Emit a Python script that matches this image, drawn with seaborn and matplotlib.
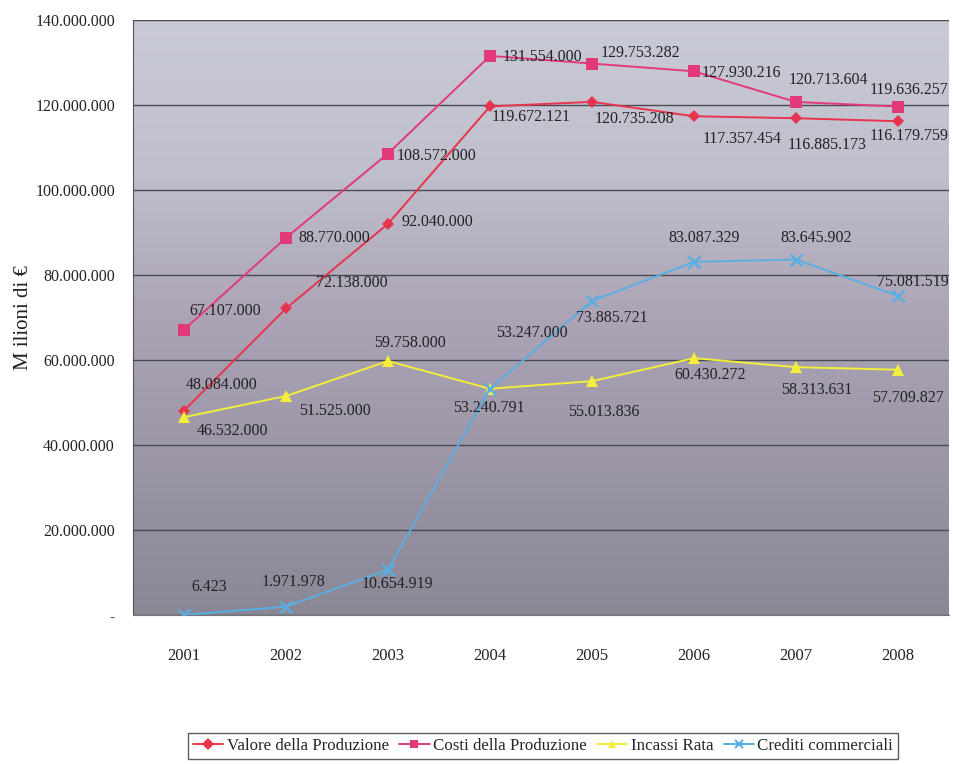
import numpy as np
import pandas as pd
import matplotlib
matplotlib.use("Agg")
import matplotlib.pyplot as plt
import seaborn as sns
from matplotlib.colors import LinearSegmentedColormap
from matplotlib.ticker import FuncFormatter, FixedLocator

# data
years = ["2001", "2002", "2003", "2004", "2005", "2006", "2007", "2008"]
valore = [48084000, 72138000, 92040000, 119672121, 120735208, 117357454, 116885173, 116179759]
costi = [67107000, 88770000, 108572000, 131554000, 129753282, 127930216, 120713604, 119636257]
incassi = [46532000, 51525000, 59758000, 53240791, 55013836, 60430272, 58313631, 57709827]
crediti = [6423, 1971978, 10654919, 53247000, 73885721, 83087329, 83645902, 75081519]
series_names = ["Valore della Produzione", "Costi della Produzione", "Incassi Rata", "Crediti commerciali"]

# label offsets in pixels (dx, dy) for each point
label_offsets = {
    "Valore della Produzione": [(38, 26), (66, 25), (49, 2), (41, -11), (42, -17), (48, -23), (31, -27), (11, -15)],
    "Costi della Produzione": [(41, 19), (48, 0), (49, -2), (52, -1), (48, 11), (47, -2), (32, 22), (11, 17)],
    "Incassi Rata": [(49, -14), (49, -15), (22, 18), (-1, -19), (12, -31), (16, -17), (21, -23), (10, -28)],
    "Crediti commerciali": [(25, 28), (8, 25), (9, -14), (42, 56), (20, -17), (10, 24), (20, 22), (15, 14)],
}

colors = {"Valore della Produzione": "#e8344e", "Costi della Produzione": "#e23a78",
          "Incassi Rata": "#f2ee3a", "Crediti commerciali": "#5aaee2"}
markers = {"Valore della Produzione": "D", "Costi della Produzione": "s",
           "Incassi Rata": "^", "Crediti commerciali": "x"}
msizes = {"Valore della Produzione": 6.5, "Costi della Produzione": 8,
          "Incassi Rata": 8, "Crediti commerciali": 8}

df = pd.DataFrame({
    "anno": years * 4,
    "valore": valore + costi + incassi + crediti,
    "serie": sum([[n] * len(years) for n in series_names], []),
})

sns.set_style("white")
plt.rcParams["font.family"] = ["Liberation Serif", "DejaVu Serif"]

fig = plt.figure(figsize=(9.54, 7.64), dpi=100)
ax = fig.add_axes([133 / 954, 149 / 764, 816 / 954, 595 / 764])

# gradient background like the scanned chart
bg = LinearSegmentedColormap.from_list("bg", ["#8a8896", "#9b95a6", "#aca4b6", "#c0bfcd", "#c9cad7"])
grad = np.linspace(0, 1, 256).reshape(-1, 1)
ax.imshow(grad, cmap=bg, extent=[-0.5, 7.5, 0, 140000000], aspect="auto", origin="lower", zorder=0)

for name in series_names:
    sub = df[df["serie"] == name]
    sns.lineplot(data=sub, x="anno", y="valore", color=colors[name], marker=markers[name],
                 markersize=msizes[name], linewidth=1.4,
                 markeredgewidth=1.8 if markers[name] == "x" else 0,
                 markeredgecolor=colors[name], ax=ax, zorder=3, sort=False)

for name in series_names:
    vals = df[df["serie"] == name]["valore"].tolist()
    for i, v in enumerate(vals):
        dx, dy = label_offsets[name][i]
        ax.annotate(f"{v:,}".replace(",", "."), xy=(i, v), xytext=(dx, dy),
                    textcoords="offset pixels", ha="center", va="center",
                    fontsize=11.5, color="#222222", zorder=5)

ax.set_xlim(-0.5, 7.5)
ax.set_ylim(0, 140000000)
ax.set_yticks(np.arange(0, 140000001, 20000000))
ax.yaxis.set_major_formatter(FuncFormatter(lambda v, p: "-" if v == 0 else f"{int(v):,}".replace(",", ".")))
ax.grid(axis="y", color="#4a4a52", linewidth=1.0, zorder=1)
ax.set_axisbelow(False)

ax.xaxis.set_minor_locator(FixedLocator(np.arange(-0.5, 8, 1)))
ax.tick_params(axis="x", which="major", length=0, pad=24, labelsize=12, colors="#222222")
ax.tick_params(axis="x", which="minor", length=7, width=1, color="#555555", direction="out")
ax.tick_params(axis="y", length=5, width=1, color="#555555", labelsize=11.5, pad=8, labelcolor="#222222")

for s in ["top", "right"]:
    ax.spines[s].set_visible(False)
ax.spines["left"].set_color("#555555")
ax.spines["bottom"].set_color("#777777")

ax.set_xlabel("")
ax.set_ylabel("M ilioni di €", fontsize=15, color="#222222")
ax.yaxis.set_label_coords(-0.122, 0.5)

handles = [plt.Line2D([], [], color=colors[n], marker=markers[n], markersize=6,
                      markeredgewidth=1.5 if markers[n] == "x" else 0, linewidth=1.4)
           for n in series_names]
leg = fig.legend(handles, series_names, loc="center", bbox_to_anchor=(543 / 954, 1 - 746 / 764),
                 ncol=4, fontsize=12.2, frameon=True, fancybox=False, handlelength=1.8,
                 handletextpad=0.2, columnspacing=0.6, borderpad=0.3)
leg.get_frame().set_edgecolor("#333333")
leg.get_frame().set_linewidth(1.0)

fig.savefig("out.png", dpi=100, facecolor="white")
